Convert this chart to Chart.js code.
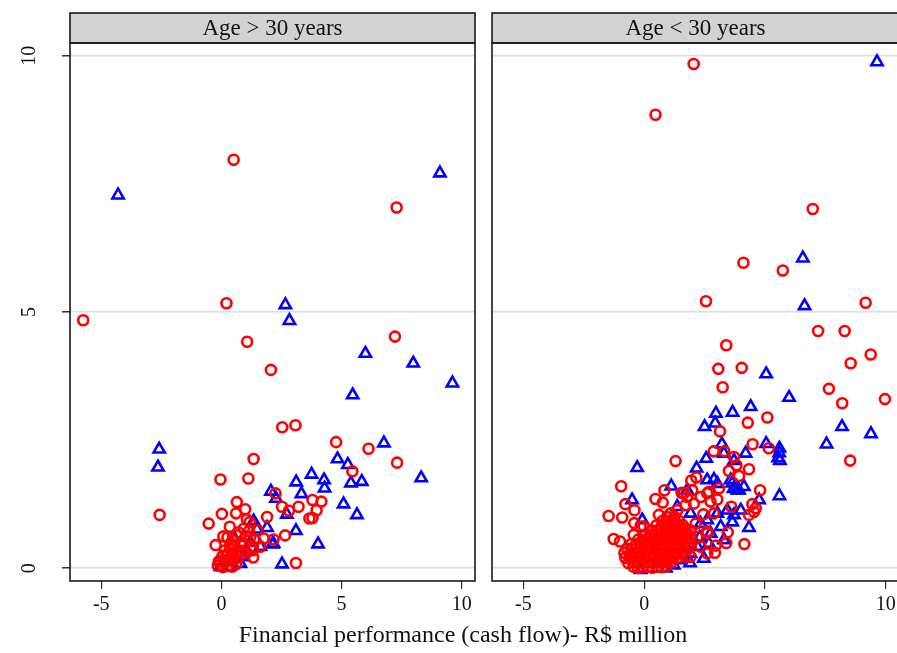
<!DOCTYPE html>
<html lang="en">
<head>
  <meta charset="UTF-8" />
  <title>Cash flow by age group</title>
  <script src="https://cdn.jsdelivr.net/npm/chart.js"></script>
  <style>
    body {
      margin: 0;
      width: 897px;
      height: 653px;
      overflow: hidden;
      background: #fff;
      position: relative;
      font-family: 'Liberation Serif', 'DejaVu Serif', serif;
    }
    canvas { position: absolute; top: 0; }
    #left { left: 0; }
    #right { left: 480px; }
    .xtitle {
      position: absolute;
      left: 0;
      width: 926px;
      top: 621px;
      text-align: center;
      font-size: 24px;
      color: #111;
    }
  </style>
</head>
<body>
  <canvas id="left" width="495" height="653"></canvas>
  <canvas id="right" width="430" height="653"></canvas>
  <div class="xtitle">Financial performance (cash flow)- R$ million</div>

  <script>
    const panelTitles = ["Age > 30 years", "Age < 30 years"];
    const xTicks = [-5, 0, 5, 10];
    const yTicks = [0, 5, 10];

    // Age > 30 years
    const olderCircles = [
      [-5.75,4.84],[0.51,7.97],[0.21,5.17],[1.07,4.42],[7.29,7.04],[7.22,4.52],[2.06,3.87],
      [2.53,2.75],[3.08,2.79],[4.77,2.46],[6.12,2.33],[7.31,2.06],[5.45,1.89],[-2.57,1.04],
      [1.34,2.13],[-0.04,1.73],[1.12,1.75],[2.25,1.46],[3.79,1.33],[4.16,1.30],[3.96,1.13],
      [3.79,0.98],[3.66,0.97],[3.21,1.2],[2.52,1.2],[2.81,1.12],[0.64,1.29],[0.99,1.15],
      [0.61,1.07],[0.02,1.06],[-0.53,0.87],[1.9,1.0],[2.65,0.64],[3.1,0.1],[1.32,0.21],
      [2.17,0.56],[-0.24,0.45],[0.08,0.62],[0.35,0.81],[1.06,0.95],[1.18,0.9],[0.93,0.77],
      [1.5,0.74],[0.65,0.64],[1.2,0.61],[1.76,0.58],[0.37,0.48],[0.93,0.45],[1.62,0.42],
      [1.31,0.42],[-0.11,0.13],
      [-0.15,0.05],[0.05,0.02],[0.25,0.04],[0.45,0.03],[0.62,0.08],[-0.05,0.14],[0.15,0.12],
      [0.35,0.15],[0.55,0.17],[0.75,0.22],[0.05,0.24],[0.25,0.26],[0.45,0.28],[0.65,0.3],
      [0.85,0.34],[0.15,0.35],[0.35,0.38],[0.55,0.42],[0.5,0.55],[0.8,0.5],[1.0,0.62],
      [1.15,0.72],[0.7,0.7],[1.4,0.55],[0.25,0.6],[1.05,0.3],[1.3,0.35]
    ];
    const olderTriangles = [
      [-4.3,7.28],[9.09,7.71],[2.66,5.14],[2.83,4.83],[5.99,4.19],[7.98,4.0],[9.61,3.61],
      [5.46,3.38],[6.76,2.44],[-2.59,2.32],[-2.64,1.97],[4.83,2.13],[5.26,2.02],[8.31,1.76],
      [5.39,1.66],[5.84,1.69],[3.11,1.68],[3.75,1.83],[4.27,1.72],[4.29,1.56],[3.33,1.45],
      [2.06,1.5],[2.27,1.36],[2.72,1.05],[5.08,1.25],[5.64,1.04],[3.1,0.73],[4.02,0.47],
      [2.52,0.08],[1.9,0.79],[2.12,0.47],[1.48,0.76],[1.34,0.92],[1.62,0.42],[0.93,0.22],
      [0.79,0.09],[0.51,0.61],[-0.04,0.03],[2.17,0.48],[0.3,0.02],[1.2,0.5]
    ];

    // Age < 30 years
    const youngerCircles = [
      [2.05,9.84],[0.47,8.85],[6.98,7.01],[4.11,5.96],[5.74,5.81],[2.56,5.21],[9.17,5.18],
      [7.2,4.63],[8.3,4.63],[3.4,4.35],[9.38,4.17],[8.55,4.0],[3.07,3.89],[4.04,3.91],
      [3.25,3.53],[7.65,3.5],[9.97,3.3],[8.2,3.22],[5.1,2.94],[4.29,2.84],[3.14,2.67],
      [4.49,2.42],[5.16,2.34],[2.88,2.28],[3.32,2.28],[3.72,2.17],[3.82,2.01],[8.53,2.1],
      [3.51,1.9],[4.34,1.93],[3.93,1.8],[1.3,2.09],[2.16,1.77],[1.95,1.71],[4.8,1.52],
      [-0.95,1.6],[0.84,1.52],[0.47,1.35],[0.77,1.28],[1.55,1.47],[1.78,1.39],[1.99,1.52],
      [2.34,1.39],[2.68,1.49],[3.1,1.56],[3.03,1.34],[3.61,1.2],[4.48,1.25],[4.62,1.17],
      [4.55,1.1],[4.34,1.04],[-0.78,1.25],[-0.4,1.13],[-1.47,1.02],[-0.91,0.99],[-0.41,0.88],
      [-0.02,0.82],[-0.43,0.65],[-1.26,0.57],[-1.0,0.52],[2.45,1.05],[2.89,1.07],[2.13,0.87],
      [2.61,0.72],[3.46,0.7],[3.4,0.49],[4.15,0.47],[2.96,0.44],[2.93,0.3],[1.71,0.22],
      [1.64,1.46],[2.61,1.46],[2.75,1.3],[2.06,1.26],[1.71,1.23],[1.37,1.13],[1.09,1.07],
      [0.61,1.04],[-0.15,0.81],[1.92,0.74],[2.2,0.61],[2.61,0.68],[2.34,0.42],[1.92,0.22],
      [2.61,0.29],
      [-0.45,0.03],[-0.26,0.01],[-0.05,0.02],[0.16,0.03],[0.34,0.01],[0.56,0.03],[0.74,0.02],[0.93,0.04],
      [-0.66,0.1],[-0.46,0.12],[-0.24,0.1],[-0.06,0.11],[0.14,0.12],[0.36,0.1],[0.55,0.12],[0.76,0.11],
      [0.95,0.13],[1.14,0.12],
      [-0.78,0.2],[-0.56,0.19],[-0.36,0.21],[-0.14,0.2],[0.05,0.19],[0.26,0.21],[0.44,0.2],[0.66,0.19],
      [0.85,0.21],[1.04,0.2],[1.24,0.22],[1.42,0.21],
      [-0.82,0.3],[-0.6,0.28],[-0.4,0.29],[-0.19,0.3],[0.01,0.28],[0.21,0.3],[0.4,0.29],[0.61,0.28],
      [0.8,0.3],[1.01,0.29],[1.2,0.31],[1.41,0.3],[1.6,0.32],
      [-0.71,0.38],[-0.5,0.37],[-0.3,0.39],[-0.1,0.38],[0.1,0.37],[0.3,0.39],[0.51,0.38],[0.7,0.37],
      [0.9,0.39],[1.1,0.38],[1.3,0.4],[1.5,0.39],[1.7,0.41],[1.86,0.4],
      [-0.54,0.47],[-0.34,0.46],[-0.15,0.48],[0.06,0.47],[0.25,0.46],[0.46,0.48],[0.65,0.47],[0.86,0.46],
      [1.05,0.48],[1.26,0.47],[1.45,0.49],[1.66,0.48],[1.88,0.5],
      [-0.24,0.56],[-0.04,0.55],[0.15,0.57],[0.36,0.56],[0.55,0.55],[0.76,0.57],[0.95,0.56],[1.16,0.58],
      [1.35,0.57],[1.55,0.58],[1.74,0.57],[1.93,0.59],
      [0.04,0.65],[0.25,0.64],[0.46,0.66],[0.65,0.65],[0.86,0.66],[1.05,0.65],[1.26,0.67],[1.45,0.66],
      [1.64,0.68],[1.82,0.67],
      [0.3,0.74],[0.51,0.73],[0.7,0.75],[0.9,0.74],[1.1,0.76],[1.3,0.75],[1.5,0.77],[1.7,0.76],
      [0.5,0.83],[0.72,0.82],[0.95,0.84],[1.15,0.83],[1.38,0.85],[1.6,0.84],
      [0.76,0.92],[0.98,0.91],[1.2,0.93],[1.45,0.92],[0.95,1.0],[1.25,1.01]
    ];
    const youngerTriangles = [
      [9.64,9.88],[6.57,6.05],[6.64,5.12],[5.05,3.79],[6.0,3.33],[4.41,3.15],[3.66,3.04],
      [2.97,3.02],[2.5,2.76],[2.94,2.83],[8.19,2.76],[9.39,2.62],[7.55,2.42],[3.22,2.42],
      [5.05,2.43],[5.6,2.34],[5.59,2.25],[5.55,2.15],[5.62,2.1],[3.72,2.1],[2.57,2.14],
      [-0.29,1.96],[2.17,1.95],[2.61,1.72],[2.89,1.73],[3.65,1.66],[3.8,1.6],[3.93,1.52],
      [3.7,1.55],[5.6,1.41],[1.12,1.6],[4.76,1.33],[4.0,1.13],[3.65,0.9],[-0.5,1.33],
      [-0.08,0.94],[4.34,0.79],[3.3,2.24],[4.2,2.24],[3.03,1.65],[3.58,1.72],[3.86,1.52],
      [4.13,1.59],[3.44,1.13],[3.72,1.04],[3.03,1.07],[2.61,0.94],[2.34,0.87],[1.92,1.07],
      [1.37,1.2],[1.78,1.52],[2.68,0.48],[2.75,0.68],[3.17,0.81],[3.3,0.55],[2.2,0.42],
      [2.47,0.19],[1.92,0.29],[1.51,0.16],[1.23,0.06],[0.54,0.0],[-0.15,-0.03],[1.64,0.55],
      [0.9,0.0],[1.9,0.1],[2.3,0.6]
    ];

    const toPoints = arr => arr.map(p => ({ x: p[0], y: p[1] }));

    const panelFrame = {
      id: "panelFrame",
      afterDraw(chart, args, opts) {
        const { ctx, chartArea: a } = chart;
        ctx.save();
        // header strip
        ctx.fillStyle = "#d2d2d2";
        ctx.fillRect(a.left, 13, a.right - a.left, a.top - 13);
        ctx.strokeStyle = "#1a1a1a";
        ctx.lineWidth = 1.6;
        ctx.strokeRect(a.left, 13, a.right - a.left, a.top - 13);
        ctx.fillStyle = "#111";
        ctx.font = "23px 'Liberation Serif', serif";
        ctx.textAlign = "center";
        ctx.textBaseline = "middle";
        ctx.fillText(opts.title, (a.left + a.right) / 2, (13 + a.top) / 2 + 1);
        // plot border
        ctx.strokeRect(a.left, a.top, a.right - a.left, a.bottom - a.top);
        // rotated y labels
        if (opts.yLabels) {
          const ys = chart.scales.y;
          ctx.font = "20px 'Liberation Serif', serif";
          ys.ticks.forEach(t => {
            ctx.save();
            ctx.translate(30, ys.getPixelForValue(t.value));
            ctx.rotate(-Math.PI / 2);
            ctx.fillText(String(t.value), 0, 0);
            ctx.restore();
          });
        }
        ctx.restore();
      }
    };

    function makePanel(canvasId, title, circles, triangles, showY, pad) {
      return new Chart(document.getElementById(canvasId), {
        type: "scatter",
        data: {
          datasets: [
            {
              data: toPoints(circles),
              pointStyle: "circle",
              pointRadius: 5,
              pointBorderWidth: 2.6,
              pointBorderColor: "#ff0000",
              pointBackgroundColor: "rgba(0,0,0,0)"
            },
            {
              data: toPoints(triangles),
              pointStyle: "triangle",
              pointRadius: 6.5,
              pointBorderWidth: 2.6,
              pointBorderColor: "#0000ff",
              pointBackgroundColor: "rgba(0,0,0,0)"
            }
          ]
        },
        options: {
          responsive: false,
          animation: false,
          layout: { padding: pad },
          plugins: {
            legend: { display: false },
            tooltip: { enabled: false },
            panelFrame: { title: title, yLabels: showY }
          },
          scales: {
            x: {
              type: "linear",
              min: -6.3,
              max: 10.55,
              afterBuildTicks: s => { s.ticks = xTicks.map(v => ({ value: v })); },
              afterFit: s => { s.height = 72; },
              border: { display: false },
              grid: { drawOnChartArea: false, tickLength: 8, tickColor: "#333", lineWidth: 1.2 },
              ticks: {
                color: "#111",
                padding: 4,
                font: { family: "'Liberation Serif', serif", size: 20 }
              }
            },
            y: {
              type: "linear",
              min: -0.25,
              max: 10.25,
              afterBuildTicks: s => { s.ticks = yTicks.map(v => ({ value: v })); },
              afterFit: s => { s.width = showY ? 70 : 0; },
              border: { display: false },
              grid: {
                color: "#dedede",
                lineWidth: 1.5,
                drawTicks: showY,
                tickLength: 8,
                tickColor: "#333"
              },
              ticks: { display: false }
            }
          }
        },
        plugins: [panelFrame]
      });
    }

    makePanel("left", panelTitles[0], olderCircles, olderTriangles, true,
      { top: 43, right: 20, left: 0, bottom: 0 });
    makePanel("right", panelTitles[1], youngerCircles, youngerTriangles, false,
      { top: 43, right: 11, left: 12, bottom: 0 });
  </script>
</body>
</html>
